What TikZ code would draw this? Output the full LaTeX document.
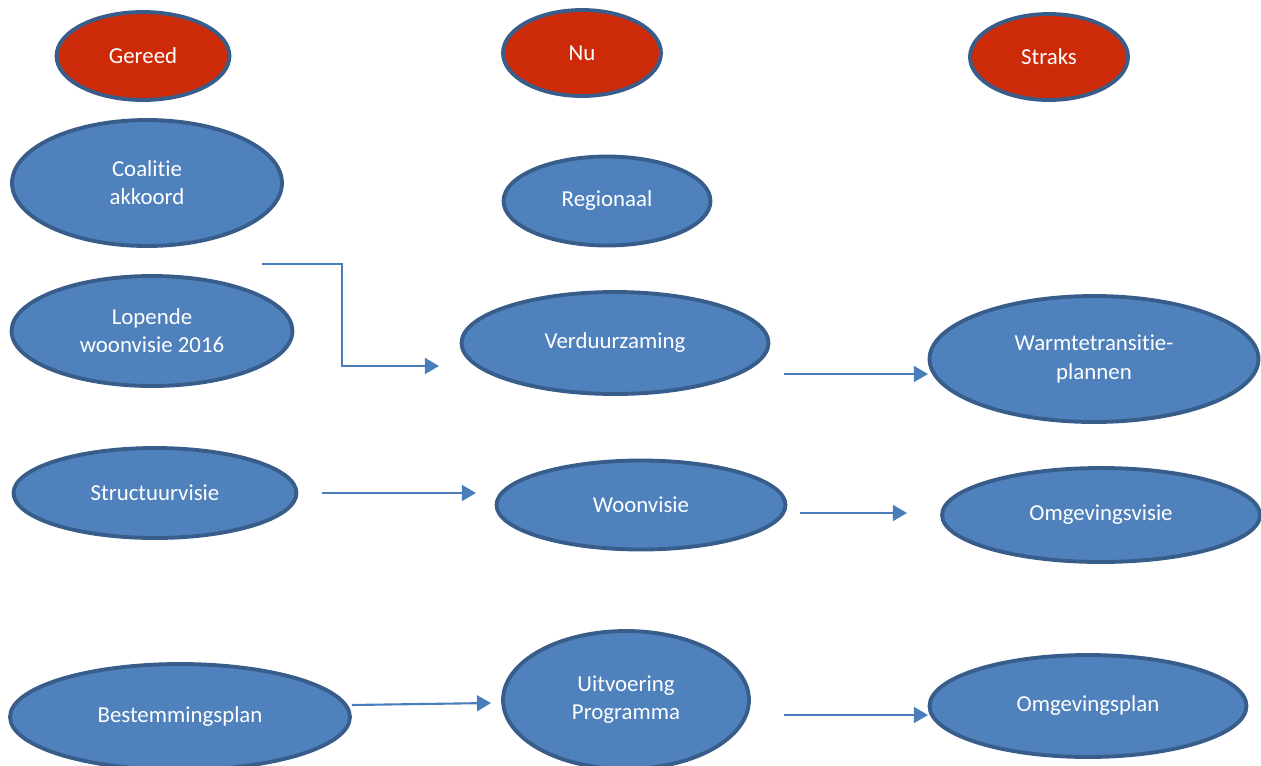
\documentclass[tikz,border=0pt]{standalone}
\usepackage{fontspec}
\setmainfont{Carlito}[Ligatures=NoCommon]
\usepackage{xcolor}
\usepackage{tikz}
\usetikzlibrary{shapes.geometric, arrows.meta}

\definecolor{ellblue}{HTML}{4F81BD}
\definecolor{ellrim}{HTML}{385D8A}
\definecolor{ellred}{HTML}{CD2A0A}
\definecolor{arrblue}{HTML}{4A7EBB}

\begin{document}
\begin{tikzpicture}[
    x=0.02cm, y=-0.02cm,
    ell/.style={ellipse, draw=ellrim, line width=2.2pt, fill=ellblue, text=white, inner sep=0pt, align=center, font=\fontsize{13}{16}\selectfont},
    hdr/.style={ell, fill=ellred},
    arr/.style={-{Triangle[length=8pt, width=9pt]}, draw=arrblue, line width=1.2pt},
]
\useasboundingbox (0,0) rectangle (1261,765);

% HEADERS
\node[hdr, minimum width=3.46cm, minimum height=1.76cm] (gereed) at (143,56) {Gereed};
\node[hdr, minimum width=3.16cm, minimum height=1.72cm] (nu) at (582,53) {Nu};
\node[hdr, minimum width=3.16cm, minimum height=1.72cm] (straks) at (1049,57) {Straks};

% GEREED column
\node[ell, minimum width=5.4cm, minimum height=2.52cm] (coalitie) at (147,183) {Coalitie\\akkoord};
\node[ell, minimum width=5.62cm, minimum height=2.2cm] (lopende) at (152,331) {Lopende\\woonvisie 2016};
\node[ell, minimum width=5.66cm, minimum height=1.8cm] (structuur) at (155,493) {Structuurvisie};
\node[ell, minimum width=6.8cm, minimum height=2.12cm] (bestemming) at (180,717) {Bestemmingsplan};

% NU column
\node[ell, minimum width=4.14cm, minimum height=1.78cm] (regionaal) at (607,201) {Regionaal};
\node[ell, minimum width=6.14cm, minimum height=2.04cm] (verduurzaming) at (615,343) {Verduurzaming};
\node[ell, minimum width=5.78cm, minimum height=1.78cm] (woonvisie) at (641,505) {Woonvisie};
\node[ell, minimum width=4.92cm, minimum height=2.76cm] (uitvoering) at (626,700) {Uitvoering\\Programma};

% STRAKS column
\node[ell, minimum width=6.58cm, minimum height=2.52cm] (warmte) at (1094,359) {Warmtetransitie-\\plannen};
\node[ell, minimum width=6.36cm, minimum height=1.88cm] (omgvisie) at (1101,515) {Omgevingsvisie};
\node[ell, minimum width=6.34cm, minimum height=2.04cm] (omgplan) at (1088,706) {Omgevingsplan};

% Connectors
\coordinate (elbowstart) at (262,264);
\coordinate (elbowend) at (439,366);
\coordinate (verdout) at (784,374);
\coordinate (warmin) at (928,374);
\coordinate (structout) at (322,493);
\coordinate (woonin) at (476,493);
\coordinate (woonout) at (800,513);
\coordinate (omgvisiein) at (907,513);
\coordinate (uitvin) at (491,703);
\coordinate (uitvout) at (784,715);
\coordinate (omgplanin) at (928,715);

\draw[arr] (elbowstart) -- (342,264) -- (342,366) -- (elbowend);
\draw[arr] (verdout) -- (warmin);
\draw[arr] (structout) -- (woonin);
\draw[arr] (woonout) -- (omgvisiein);
\draw[arr] (bestemming.east) ++(0,-12) -- (uitvin);
\draw[arr] (uitvout) -- (omgplanin);

\end{tikzpicture}
\end{document}
